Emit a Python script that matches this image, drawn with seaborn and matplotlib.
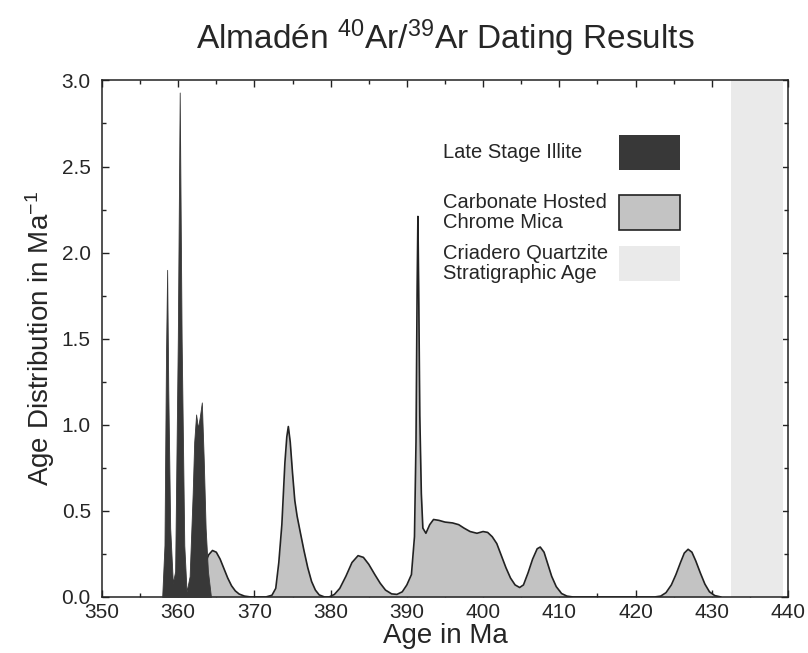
import matplotlib
matplotlib.use('Agg')
import matplotlib.pyplot as plt
from matplotlib.patches import Rectangle
from matplotlib.ticker import MultipleLocator
import pandas as pd
import seaborn as sns

# Late stage illite age spectrum
illite_age = [357.9, 358.2, 358.4, 358.55, 358.7, 358.95, 359.3, 359.6, 359.95, 360.2,
              360.45, 360.8, 361.1, 361.5, 361.9, 362.1, 362.35, 362.6, 362.85, 363.1,
              363.35, 363.6, 363.9, 364.3]
illite_val = [0.0, 0.3, 1.4, 1.90, 1.2, 0.4, 0.08, 0.15, 1.5, 2.93,
              1.5, 0.3, 0.03, 0.12, 0.6, 0.9, 1.06, 0.98, 1.05, 1.13,
              0.8, 0.4, 0.15, 0.0]

# Carbonate hosted chrome mica age spectrum
mica_age = [360.0, 360.8, 361.5, 362.0, 362.5, 363.0, 363.5, 364.0, 364.5, 365.0,
            365.5, 366.0, 366.5, 367.0, 367.5, 368.0, 368.7, 369.5,
            371.5, 372.3, 372.8, 373.2, 373.6, 374.0, 374.25, 374.45, 374.7, 375.0,
            375.3, 375.6, 376.0, 376.5, 377.0, 377.5, 378.0, 378.5, 379.2,
            379.8, 380.5, 381.2, 382.0, 382.8, 383.6, 384.3, 385.0, 385.8, 386.5,
            387.2, 388.0, 388.7, 389.4, 390.0, 390.6, 391.0, 391.2, 391.35, 391.45,
            391.55, 391.7, 391.9, 392.1, 392.5, 393.0, 393.5, 394.2, 395.0, 396.0,
            396.8, 397.5, 398.3, 399.2, 400.0, 400.6, 401.2, 401.8, 402.4, 403.0,
            403.6, 404.2, 404.8, 405.3, 405.9, 406.5, 407.1, 407.5, 408.0, 408.5,
            409.0, 409.6, 410.3, 411.0, 411.8,
            422.5, 423.3, 424.0, 424.7, 425.3, 425.9, 426.4, 426.9, 427.4, 427.9,
            428.5, 429.1, 429.7, 430.4, 431.2]
mica_val = [0.0, 0.005, 0.02, 0.045, 0.08, 0.13, 0.19, 0.245, 0.27, 0.26,
            0.22, 0.165, 0.11, 0.065, 0.035, 0.017, 0.005, 0.0,
            0.0, 0.01, 0.05, 0.2, 0.42, 0.78, 0.93, 0.99, 0.9, 0.72,
            0.56, 0.47, 0.38, 0.27, 0.17, 0.09, 0.04, 0.012, 0.0,
            0.0, 0.015, 0.05, 0.12, 0.2, 0.24, 0.23, 0.19, 0.13, 0.08,
            0.04, 0.018, 0.015, 0.03, 0.07, 0.13, 0.35, 0.9, 1.8, 2.21,
            1.8, 1.05, 0.6, 0.4, 0.37, 0.42, 0.45, 0.445, 0.435, 0.43,
            0.42, 0.40, 0.38, 0.37, 0.38, 0.375, 0.35, 0.31, 0.24, 0.17,
            0.11, 0.07, 0.055, 0.07, 0.14, 0.22, 0.28, 0.29, 0.26, 0.19,
            0.12, 0.06, 0.02, 0.005, 0.0,
            0.0, 0.005, 0.025, 0.07, 0.13, 0.2, 0.255, 0.277, 0.26, 0.21,
            0.14, 0.075, 0.03, 0.008, 0.0]

# Criadero quartzite stratigraphic age range
strat_age = [432.5, 439.4]

legend_labels = ['Late Stage Illite', 'Carbonate Hosted\nChrome Mica',
                 'Criadero Quartzite\nStratigraphic Age']

dark = '#383838'
mid = '#c3c3c3'
light = '#eaeaea'

sns.set_theme(style='ticks')
plt.rcParams['font.family'] = ['Liberation Sans', 'DejaVu Sans']
plt.rcParams['mathtext.fontset'] = 'custom'
plt.rcParams['mathtext.rm'] = 'Liberation Sans'
plt.rcParams['mathtext.it'] = 'Liberation Sans:italic'

fig = plt.figure(figsize=(8.08, 6.53), dpi=100)
ax = fig.add_axes([0.1262, 0.0858, 0.849, 0.791])

df_mica = pd.DataFrame({'age': mica_age, 'value': mica_val})
df_illite = pd.DataFrame({'age': illite_age, 'value': illite_val})

ax.axvspan(strat_age[0], strat_age[1], color=light, lw=0, zorder=1)
ax.fill_between(df_mica['age'], df_mica['value'], color=mid, lw=0, zorder=2)
sns.lineplot(data=df_mica, x='age', y='value', ax=ax, color='#222222', lw=1.2, zorder=3)
ax.fill_between(df_illite['age'], df_illite['value'], color=dark, lw=0.6,
                edgecolor=dark, zorder=4)

ax.set_xlim(350, 440)
ax.set_ylim(0, 3.0)
ax.xaxis.set_major_locator(MultipleLocator(10))
ax.xaxis.set_minor_locator(MultipleLocator(5))
ax.yaxis.set_major_locator(MultipleLocator(0.5))
ax.yaxis.set_minor_locator(MultipleLocator(0.25))
ax.yaxis.set_major_formatter(matplotlib.ticker.FormatStrFormatter('%.1f'))
ax.tick_params(which='both', direction='in', top=True, right=True, color='#222222')
ax.tick_params(which='major', length=5, width=1, labelsize=15)
ax.tick_params(which='minor', length=3, width=1)
ax.tick_params(axis='x', pad=4)
ax.tick_params(axis='y', pad=8)
for s in ax.spines.values():
    s.set_color('#222222')
    s.set_linewidth(1.1)

ax.set_xlabel('Age in Ma', fontsize=20, labelpad=1)
ax.set_ylabel('Age Distribution in Ma$^{-1}$', fontsize=20, labelpad=3)
fig.text(0.551, 0.942, 'Almadén $^{40}$Ar/$^{39}$Ar Dating Results',
         ha='center', va='center', fontsize=24)

# hand-placed key, labels to the left of the swatches
rows = [(0.861, dark, 'none'), (0.745, mid, '#222222'), (0.646, light, 'none')]
for (yc, fc, ec), lab in zip(rows, legend_labels):
    ax.text(0.497, yc, lab, transform=ax.transAxes, ha='left', va='center',
            fontsize=14.5, linespacing=1.05)
    ax.add_patch(Rectangle((0.754, yc - 0.034), 0.0885, 0.068, transform=ax.transAxes,
                           facecolor=fc, edgecolor=ec, lw=1.2, zorder=5))

fig.savefig('out.png', dpi=100)
